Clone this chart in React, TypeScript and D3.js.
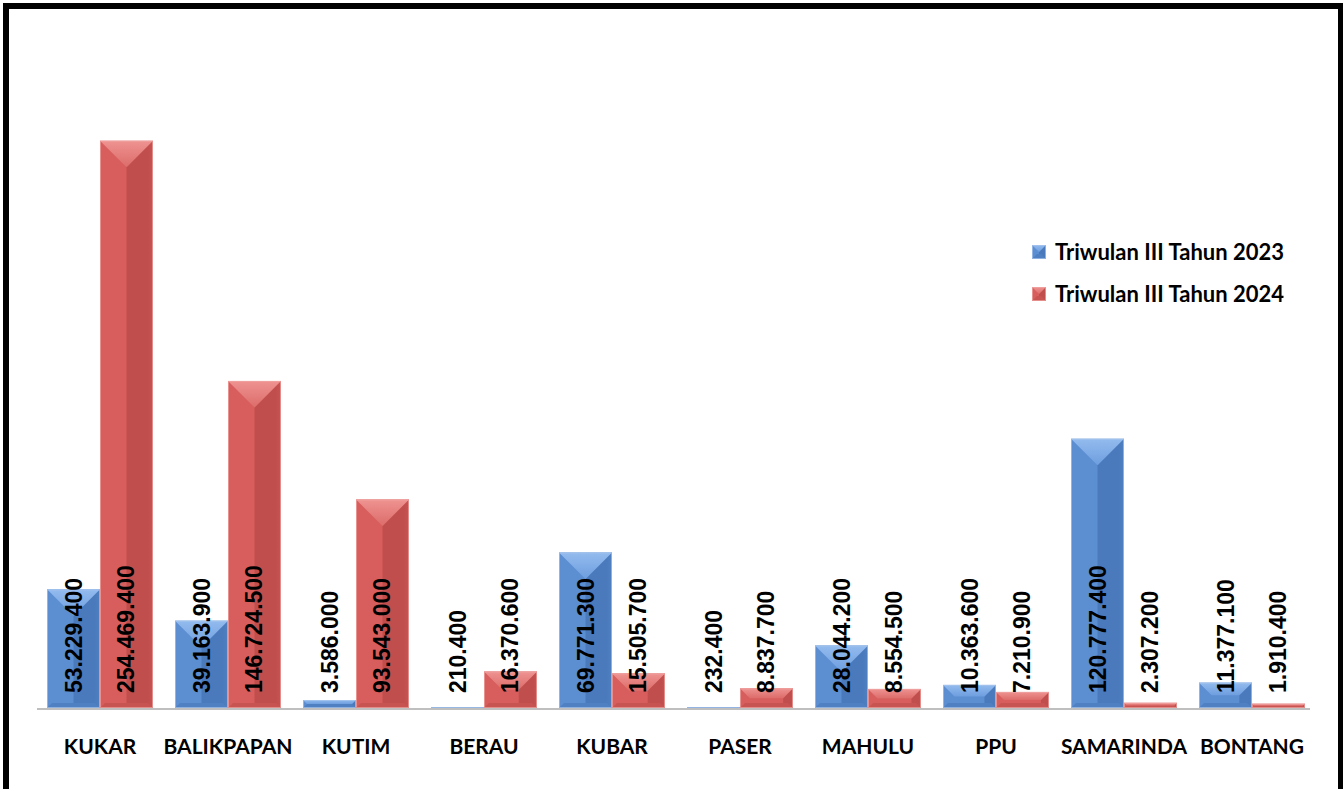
import React from "react";
import * as d3 from "d3";

const categories = ["KUKAR", "BALIKPAPAN", "KUTIM", "BERAU", "KUBAR", "PASER", "MAHULU", "PPU", "SAMARINDA", "BONTANG"];
const series2023 = [53229.4, 39163.9, 3586.0, 210.4, 69771.3, 232.4, 28044.2, 10363.6, 120777.4, 11377.1];
const series2024 = [254469.4, 146724.5, 93543.0, 16370.6, 15505.7, 8837.7, 8554.5, 7210.9, 2307.2, 1910.4];
const seriesNames = ["Triwulan III Tahun 2023", "Triwulan III Tahun 2024"];

const W = 1343;
const H = 789;

const palettes = [
  { id: "b", topA: "#93BBEE", topB: "#6E9EDF", left: "#5C8ED2", right: "#4A7ABB", bottom: "#4F80C2", edge: "#A9C6EC" },
  { id: "r", topA: "#EE9391", topB: "#DC6C6A", left: "#D75E5C", right: "#C04E4C", bottom: "#C85452", edge: "#F0A7A5" },
];

function fmt(v: number): string {
  const n = Math.round(v * 1000);
  return d3.format(",")(n).replace(/,/g, ".");
}

function Bar({ x0, w, y0, y1, pal }: { x0: number; w: number; y0: number; y1: number; pal: any }) {
  const h = y1 - y0;
  if (h <= 0) return null;
  const x1 = x0 + w;
  const b = Math.min(w / 2, h / 2);
  const bb = Math.min(b, 5);
  const pts = (a: number[][]) => a.map((p) => p.join(",")).join(" ");
  return (
    <g>
      <rect x={x0} y={y0} width={w} height={h} fill={pal.left} />
      <polygon points={pts([[x1, y0], [x1 - b, y0 + b], [x1 - b, y1], [x1, y1]])} fill={`url(#right-${pal.id})`} />
      <polygon points={pts([[x0, y1], [x1, y1], [x1 - bb, y1 - bb], [x0 + bb, y1 - bb]])} fill={pal.bottom} />
      <polygon points={pts([[x0, y0], [x1, y0], [x1 - b, y0 + b], [x0 + b, y0 + b]])} fill={`url(#top-${pal.id})`} />
      <rect x={x0 + 0.5} y={y0 + 0.5} width={w - 1} height={Math.max(0, h - 1)} fill="none" stroke={pal.edge} strokeWidth={1} opacity={0.7} />
    </g>
  );
}

export default function App() {
  const x = d3.scaleBand<string>().domain(categories).range([36, 1316]).paddingInner(0.172).paddingOuter(0.086);
  const sub = d3.scaleBand<number>().domain([0, 1]).range([0, x.bandwidth()]).padding(0);
  const y = d3.scaleLinear().domain([0, 300000]).range([708, 39.3]);
  const base = y(0);
  const allSeries = [series2023, series2024];

  return (
    <svg width={W} height={H} style={{ position: "absolute", left: 0, top: 0, background: "#fff" }}>
      <defs>
        {palettes.map((p) => (
          <React.Fragment key={p.id}>
            <linearGradient id={`top-${p.id}`} x1="0" y1="0" x2="0" y2="1">
              <stop offset="0" stopColor={p.topA} />
              <stop offset="1" stopColor={p.topB} />
            </linearGradient>
            <linearGradient id={`right-${p.id}`} x1="0" y1="0" x2="1" y2="0">
              <stop offset="0" stopColor={p.right} />
              <stop offset="0.8" stopColor={p.right} />
              <stop offset="1" stopColor={p.bottom} />
            </linearGradient>
          </React.Fragment>
        ))}
      </defs>
      <rect x={0} y={0} width={W} height={H} fill="#fff" />
      <rect x={6} y={6} width={1335} height={800} fill="none" stroke="#000" strokeWidth={6} />
      <line x1={37} x2={1310} y1={base + 1} y2={base + 1} stroke="#BFBFBF" strokeWidth={2} />
      {categories.map((c, i) => (
        <g key={c}>
          {allSeries.map((s, si) => {
            const bx = (x(c) as number) + (sub(si) as number);
            return <Bar key={si} x0={bx} w={sub.bandwidth()} y0={y(s[i])} y1={base} pal={palettes[si]} />;
          })}
        </g>
      ))}
      {categories.map((c, i) => (
        <g key={c + "l"}>
          {allSeries.map((s, si) => {
            const cx = (x(c) as number) + (sub(si) as number) + sub.bandwidth() / 2;
            return (
              <text
                key={si}
                transform={`translate(${cx},693) rotate(-90)`}
                textAnchor="start"
                dominantBaseline="central"
                fontFamily="'Liberation Sans', Arial, sans-serif"
                fontWeight="bold"
                fontSize={23}
                fill="#000"
              >
                {fmt(s[i])}
              </text>
            );
          })}
          <text
            x={(x(c) as number) + x.bandwidth() / 2}
            y={754}
            textAnchor="middle"
            fontFamily="Lato, 'Open Sans', sans-serif"
            fontWeight="bold"
            fontSize={21}
            fill="#000"
          >
            {c}
          </text>
        </g>
      ))}
      {seriesNames.map((n, si) => (
        <g key={n} transform={`translate(1032,${245 + si * 42})`}>
          <Bar x0={0} w={14} y0={0} y1={14} pal={palettes[si]} />
          <text x={23} y={15} fontFamily="Lato, 'Open Sans', sans-serif" fontWeight="bold" fontSize={22} fill="#000">
            {n}
          </text>
        </g>
      ))}
    </svg>
  );
}
